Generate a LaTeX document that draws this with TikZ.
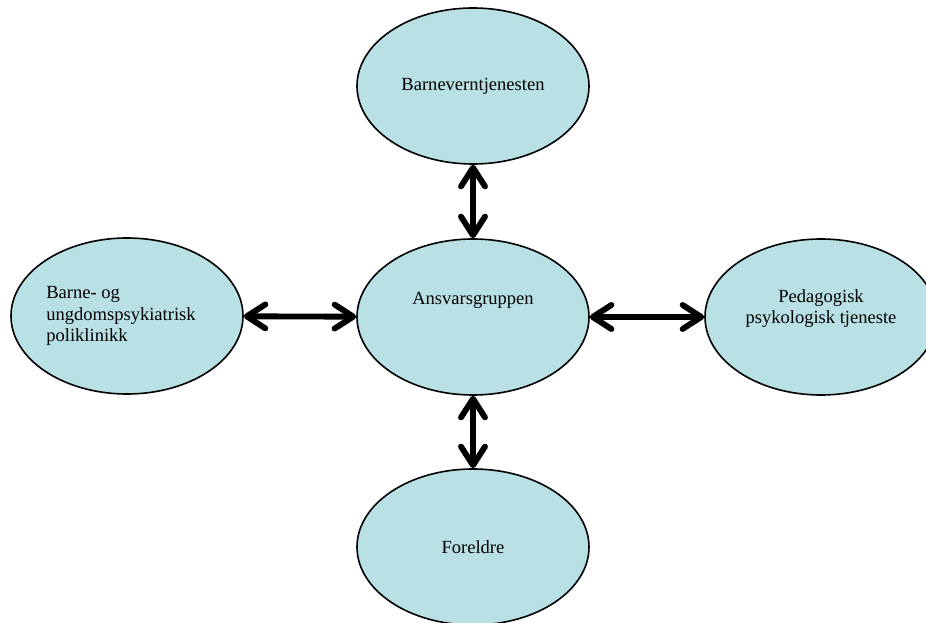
\documentclass[tikz,border=0pt]{standalone}
\usepackage{fontspec}
\setmainfont{Liberation Serif}
\usetikzlibrary{arrows.meta,shapes.geometric}
\definecolor{blobc}{HTML}{B9E0E4}

\begin{document}
\begin{tikzpicture}[x=0.75pt, y=-0.75pt,
  blob/.style={ellipse, draw=black, line width=1.2pt, fill=blobc, inner sep=0pt,
    minimum width=174pt, minimum height=117pt, font=\fontsize{13.9}{16}\selectfont},
  link/.style={line width=4.4pt, {Straight Barb[length=14pt, width=18pt, round]}-{Straight Barb[length=14pt, width=18pt, round]}}]
  \useasboundingbox (0,0) rectangle (926,623);
  \node[blob] (bv) at (473,86) {Barneverntjenesten};
  \node[blob, align=center] (ans) at (473,317) {Ansvarsgruppen\\[12pt]\mbox{}};
  \node[blob, align=left] (bup) at (127,316) {Barne- og\\ungdomspsykiatrisk\rule{9pt}{0pt}\\poliklinikk};
  \node[blob, align=center] (ppt) at (821,317) {Pedagogisk\\psykologisk tjeneste\\\mbox{}};
  \node[blob] (far) at (473,547) {Foreldre};
  \draw[link] (bv) -- (ans);
  \draw[link] (bup) -- (ans);
  \draw[link] (ans) -- (ppt);
  \draw[link] (ans) -- (far);
\end{tikzpicture}
\end{document}
